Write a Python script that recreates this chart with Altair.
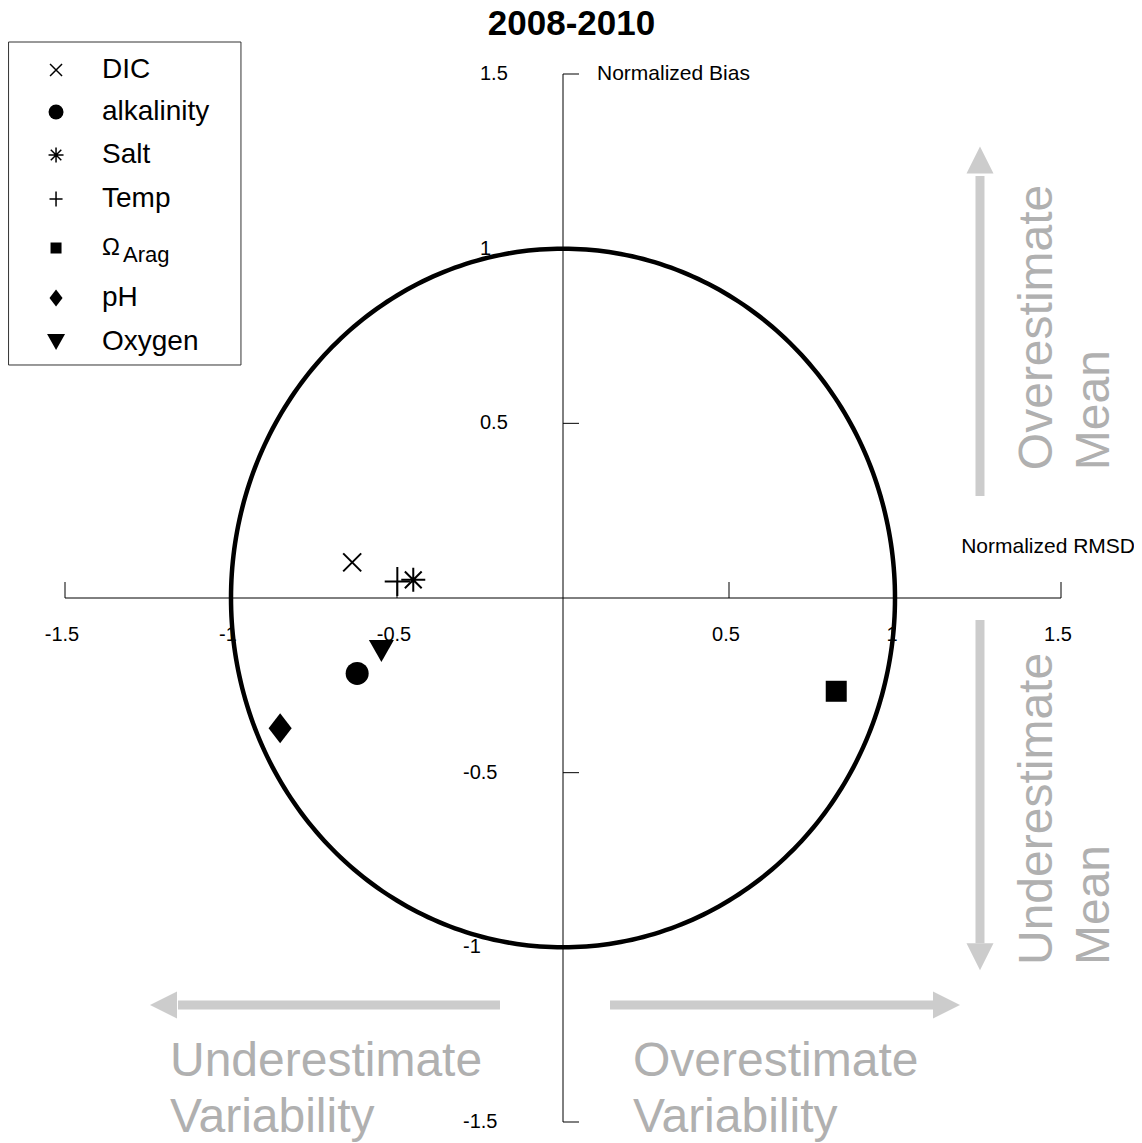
import altair as alt
import numpy as np
import pandas as pd

# ---------------- data ----------------
names = ["DIC", "alkalinity", "Salt", "Temp", "Omega_Arag", "pH", "Oxygen"]
rmsd = [-0.635, -0.620, -0.451, -0.499, 0.823, -0.852, -0.547]
bias = [0.102, -0.216, 0.052, 0.047, -0.267, -0.373, -0.152]
legend_labels = ["DIC", "alkalinity", "Salt", "Temp", "", "pH", "Oxygen"]

x_ticks = [-1.5, -1.0, -0.5, 0.5, 1.0, 1.5]
x_tick_labels = ["-1.5", "-1", "-0.5", "0.5", "1", "1.5"]
y_ticks = [1.5, 1.0, 0.5, -0.5, -1.0, -1.5]
y_tick_labels = ["1.5", "1", "0.5", "-0.5", "-1", "-1.5"]
title_text = "2008-2010"
x_title = "Normalized RMSD"
y_title = "Normalized Bias"

# ---------------- styles ----------------
FONT = "Liberation Sans"
GRAY_TXT = "#b0b0b0"
GRAY_ARR = "#cccccc"

MARKERS = {
    "DIC": dict(shape="M-1,-1L1,1M-1,1L1,-1", filled=False, size=324, lsize=144),
    "alkalinity": dict(shape="circle", filled=True, size=529, lsize=225),
    "Salt": dict(shape="M-1,0L1,0M0,-1L0,1M-0.7,-0.7L0.7,0.7M-0.7,0.7L0.7,-0.7",
                 filled=False, size=576, lsize=225),
    "Temp": dict(shape="M-0.87,0L0.87,0M0,-1L0,1", filled=False, size=841, lsize=225),
    "Omega_Arag": dict(shape="square", filled=True, size=441, lsize=121),
    "pH": dict(shape="M-0.77,0L0,-1L0.77,0L0,1Z", filled=True, size=900, lsize=289),
    "Oxygen": dict(shape="M-1,-0.88L1,-0.88L0,0.88Z", filled=True, size=625, lsize=324),
}

# layout (data units) for the hand-built legend and annotations
legend_sym_x = -1.527
legend_lab_x = -1.3886
legend_rows_y = [1.5115, 1.3912, 1.2682, 1.1422, 1.0019, 0.8588, 0.7328]
legend_box = dict(x=-1.670, x2=-0.970, y=0.667, y2=1.5916)

xs = alt.Scale(domain=[-1.5, 1.5], nice=False, zero=False)
ys = alt.Scale(domain=[-1.5, 1.5], nice=False, zero=False)


def X(f):
    return alt.X(f, type="quantitative", scale=xs, axis=None)


def Y(f):
    return alt.Y(f, type="quantitative", scale=ys, axis=None)


# ---------------- axes ----------------
axes_df = pd.DataFrame({"x": [-1.5, 0.0], "x2": [1.5, 0.0], "y": [0.0, -1.5], "y2": [0.0, 1.5]})
axes = alt.Chart(axes_df).mark_rule(color="black", strokeWidth=1).encode(
    x=X("x"), x2="x2", y=Y("y"), y2="y2")

xt_df = pd.DataFrame({"x": x_ticks, "y": [0.0] * len(x_ticks), "t": x_tick_labels})
xticks = alt.Chart(xt_df).mark_tick(orient="vertical", size=16, thickness=1,
                                    yOffset=-8, color="black", opacity=1).encode(x=X("x"), y=Y("y"))
xlabels = alt.Chart(xt_df).mark_text(dx=-3, dy=43, baseline="alphabetic", align="center",
                                     fontSize=20, font=FONT, color="black").encode(
    x=X("x"), y=Y("y"), text="t")

yt_df = pd.DataFrame({"y": y_ticks, "x": [0.0] * len(y_ticks), "t": y_tick_labels})
yt_df["lx"] = np.where(yt_df["y"] > 0, -0.25, -0.3012)
yticks = alt.Chart(yt_df).mark_tick(orient="horizontal", size=16, thickness=1,
                                    xOffset=8, color="black", opacity=1).encode(x=X("x"), y=Y("y"))
ylabels = alt.Chart(yt_df).mark_text(baseline="middle", align="left",
                                     fontSize=20, font=FONT, color="black").encode(
    x=X("lx"), y=Y("y"), text="t")

ytitle = alt.Chart(pd.DataFrame({"x": [0.0], "y": [1.5], "t": [y_title]})).mark_text(
    dx=34, align="left", baseline="middle", fontSize=21, font=FONT, color="black").encode(
    x=X("x"), y=Y("y"), text="t")
xtitle = alt.Chart(pd.DataFrame({"x": [1.5], "y": [0.1474], "t": [x_title]})).mark_text(
    dx=74, align="right", baseline="middle", fontSize=21, font=FONT, color="black").encode(
    x=X("x"), y=Y("y"), text="t")

# ---------------- unit circle ----------------
th = np.linspace(0, 2 * np.pi, 361)
circ_df = pd.DataFrame({"x": np.cos(th), "y": np.sin(th), "i": np.arange(len(th))})
circle = alt.Chart(circ_df).mark_line(color="black", strokeWidth=4.5).encode(
    x=X("x"), y=Y("y"), order="i:Q")

# ---------------- arrows ----------------
shaft_df = pd.DataFrame({
    "x": [1.256, 1.256, -0.1898, 0.1416],
    "x2": [1.256, 1.256, -1.1596, 1.1536],
    "y": [0.292, -0.063, -1.1651, -1.1651],
    "y2": [1.208, -0.988, -1.1651, -1.1651],
})
shafts = alt.Chart(shaft_df).mark_rule(color=GRAY_ARR, strokeWidth=9, strokeCap="butt").encode(
    x=X("x"), x2="x2", y=Y("y"), y2="y2")
head_df = pd.DataFrame({
    "x": [1.256, 1.256, -1.2033, 1.1551],
    "y": [1.2538, -1.0267, -1.1651, -1.1651],
    "s": ["M0,-1L-1,1L1,1Z", "M0,1L-1,-1L1,-1Z", "M-1,0L1,-1L1,1Z", "M1,0L-1,-1L-1,1Z"],
})
heads = alt.Chart(head_df).mark_point(filled=True, color=GRAY_ARR, size=729, opacity=1,
                                      strokeWidth=0).encode(
    x=X("x"), y=Y("y"), shape=alt.Shape("s:N", scale=None))

vt_df = pd.DataFrame({"x": [1.473, 1.645, 1.473, 1.645],
                      "y": [0.366, 0.366, -1.0506, -1.0506],
                      "t": ["Overestimate", "Mean", "Underestimate", "Mean"]})
vtext = alt.Chart(vt_df).mark_text(angle=270, align="left", baseline="alphabetic",
                                   fontSize=48, font=FONT, color=GRAY_TXT).encode(
    x=X("x"), y=Y("y"), text="t")
ht_df = pd.DataFrame({"x": [-1.1837, -1.1837, 0.2108, 0.2108],
                      "y": [-1.3683, -1.5285, -1.3683, -1.5285],
                      "t": ["Underestimate", "Variability", "Overestimate", "Variability"]})
htext = alt.Chart(ht_df).mark_text(align="left", baseline="alphabetic",
                                   fontSize=48, font=FONT, color=GRAY_TXT).encode(
    x=X("x"), y=Y("y"), text="t")

# ---------------- data points ----------------
pts = pd.DataFrame({"name": names, "x": rmsd, "y": bias})
pts["shape"] = [MARKERS[n]["shape"] for n in names]
pts["size"] = [MARKERS[n]["size"] for n in names]
pts["lsize"] = [MARKERS[n]["lsize"] for n in names]
pts["filled"] = [MARKERS[n]["filled"] for n in names]
pts["lx"] = legend_sym_x
pts["ly"] = legend_rows_y
pts["labx"] = legend_lab_x
pts["lab"] = legend_labels

filled_pts = pts[pts["filled"]]
line_pts = pts[~pts["filled"]]

p_fill = alt.Chart(filled_pts).mark_point(filled=True, color="black", opacity=1, strokeWidth=0).encode(
    x=X("x"), y=Y("y"), shape=alt.Shape("shape:N", scale=None), size=alt.Size("size:Q", scale=None))
p_line = alt.Chart(line_pts).mark_point(filled=False, color="black", opacity=1, strokeWidth=2).encode(
    x=X("x"), y=Y("y"), shape=alt.Shape("shape:N", scale=None), size=alt.Size("size:Q", scale=None))

# ---------------- legend ----------------
lbox = alt.Chart(pd.DataFrame([legend_box])).mark_rect(fill="white", stroke="#333333", strokeWidth=1).encode(
    x=X("x"), x2="x2", y=Y("y"), y2="y2")
l_fill = alt.Chart(filled_pts).mark_point(filled=True, color="black", opacity=1, strokeWidth=0).encode(
    x=X("lx"), y=Y("ly"), shape=alt.Shape("shape:N", scale=None), size=alt.Size("lsize:Q", scale=None))
l_line = alt.Chart(line_pts).mark_point(filled=False, color="black", opacity=1, strokeWidth=1.5).encode(
    x=X("lx"), y=Y("ly"), shape=alt.Shape("shape:N", scale=None), size=alt.Size("lsize:Q", scale=None))
l_text = alt.Chart(pts).mark_text(align="left", baseline="middle", fontSize=28, font=FONT,
                                  color="black").encode(x=X("labx"), y=Y("ly"), text="lab")
l_omega = alt.Chart(pd.DataFrame({"x": [legend_lab_x], "y": [0.982], "t": ["\u03a9"]})).mark_text(
    align="left", baseline="alphabetic", font=FONT, color="black", fontSize=24).encode(
    x=X("x"), y=Y("y"), text="t")
l_arag = alt.Chart(pd.DataFrame({"x": [-1.3253], "y": [0.962], "t": ["Arag"]})).mark_text(
    align="left", baseline="alphabetic", font=FONT, color="black", fontSize=22).encode(
    x=X("x"), y=Y("y"), text="t")

# ---------------- title ----------------
title = alt.Chart(pd.DataFrame({"x": [0.0], "y": [1.6130], "t": [title_text]})).mark_text(
    dx=8.5, align="center", baseline="alphabetic", fontSize=35, fontWeight="bold",
    font=FONT, color="black").encode(x=X("x"), y=Y("y"), text="t")

chart = alt.layer(
    axes, xticks, yticks, xlabels, ylabels, ytitle, xtitle,
    circle, shafts, heads, vtext, htext,
    p_fill, p_line,
    lbox, l_fill, l_line, l_text, l_omega, l_arag,
    title,
).properties(
    width=996, height=1048,
    autosize=alt.AutoSizeParams(type="none"),
    padding={"left": 57, "top": 66, "right": 73, "bottom": 21},
    background="white",
).configure_view(stroke=None)

chart.save("out.html", embed_options={"renderer": "svg", "actions": False})
